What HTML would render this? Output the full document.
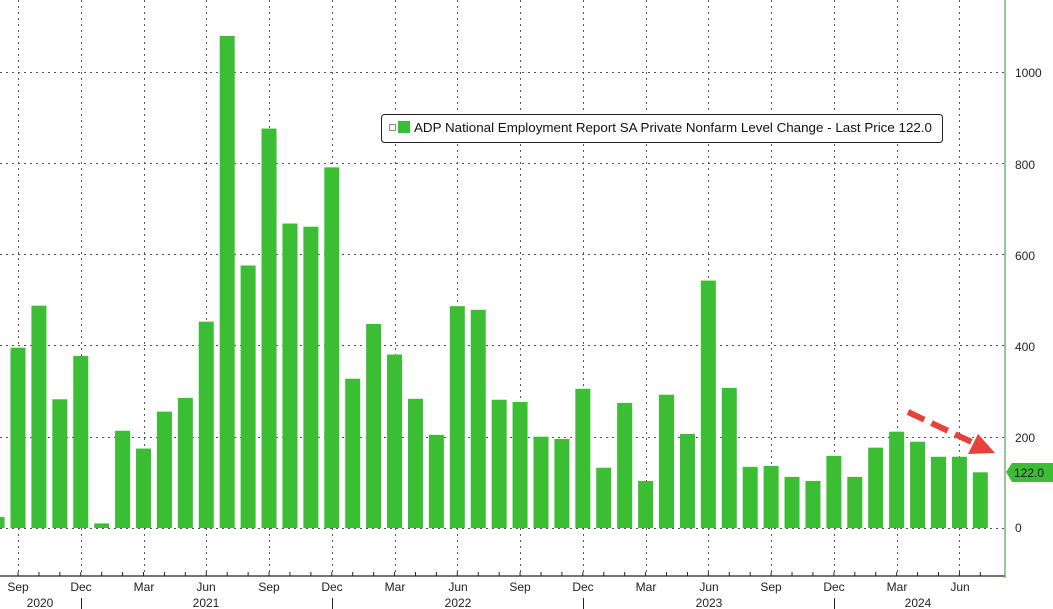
<!DOCTYPE html>
<html><head><meta charset="utf-8"><style>
html,body{margin:0;padding:0;background:#fff;}
svg{display:block;font-family:"Liberation Sans","DejaVu Sans",sans-serif;}
</style></head><body>
<svg id="c" width="1053" height="609" viewBox="0 0 1053 609">
<g id="grid"></g>
<g id="bars" fill="#3cbe34"></g>
<line x1="0" y1="576" x2="1005" y2="576" stroke="#222" stroke-width="1.2"/>
<line x1="1005" y1="0" x2="1005" y2="578" stroke="#5a9e5a" stroke-width="1.2"/>
<g id="ticks"></g>
<g font-size="12" fill="#222">
<text x="1015" y="77">1000</text>
<text x="1015" y="169">800</text>
<text x="1015" y="260">600</text>
<text x="1015" y="351">400</text>
<text x="1015" y="442">200</text>
<text x="1015" y="532">0</text>
</g>
<path d="M1006,472 L1012,463 L1053,463 L1053,482 L1012,482 Z" fill="#3cbe34"/>
<text x="1014" y="477" font-size="12" fill="#1a1a1a">122.0</text>
<g font-size="12" fill="#222" text-anchor="middle">
<text x="18" y="591">Sep</text><text x="81" y="591">Dec</text><text x="144" y="591">Mar</text><text x="206" y="591">Jun</text>
<text x="269" y="591">Sep</text><text x="332" y="591">Dec</text><text x="395" y="591">Mar</text><text x="458" y="591">Jun</text>
<text x="520" y="591">Sep</text><text x="583" y="591">Dec</text><text x="646" y="591">Mar</text><text x="709" y="591">Jun</text>
<text x="771" y="591">Sep</text><text x="834" y="591">Dec</text><text x="897" y="591">Mar</text><text x="960" y="591">Jun</text>
<text x="40" y="607">2020</text><text x="206" y="607">2021</text><text x="458" y="607">2022</text><text x="709" y="607">2023</text><text x="918" y="607">2024</text>
</g>
<rect x="381.5" y="114.5" width="561" height="28" rx="3" fill="#fff" stroke="#222" stroke-width="1"/>
<rect x="389.5" y="124.5" width="6" height="6" fill="#fff" stroke="#888"/>
<rect x="398" y="121" width="12" height="12" fill="#3cbe34"/>
<text x="414" y="132" font-size="12.5" fill="#111" textLength="518" lengthAdjust="spacingAndGlyphs">ADP National Employment Report SA Private Nonfarm Level Change - Last Price 122.0</text>
<line x1="908" y1="412" x2="978" y2="445" stroke="#e8403a" stroke-width="6" stroke-dasharray="18,8"/>
<path d="M995,453 L968,454 L978,434 Z" fill="#e8403a"/>
</svg>
<script>
var v=[24,395,487,282,377,10,213,174,255,285,452,1078,575,875,667,660,790,327,447,380,283,204,486,478,281,276,200,195,305,132,274,103,292,206,542,307,134,136,112,103,158,112,176,211,189,156,156,122];
var ns="http://www.w3.org/2000/svg";
function el(p,t,a){var e=document.createElementNS(ns,t);for(var k in a)e.setAttribute(k,a[k]);p.appendChild(e);return e;}
var g=document.getElementById('grid'),b=document.getElementById('bars'),tk=document.getElementById('ticks');
function cx(i){return 18+(i-1)*20.92;}
function y(val){return 528-val*0.4565;}
[0,200,400,600,800,1000].forEach(function(k){var yy=Math.round(y(k))+0.5;el(g,'line',{x1:0,y1:yy,x2:1005,y2:yy,stroke:'#555','stroke-dasharray':'2,4','stroke-width':1});});
for(var i=0;i<48;i++){
 var c=cx(i);
 if(i%3==1){el(g,'line',{x1:Math.round(c)+0.5,y1:0,x2:Math.round(c)+0.5,y2:576,stroke:'#555','stroke-dasharray':'2,4','stroke-width':1});}
 el(b,'rect',{x:c-7.5,y:y(v[i]),width:15,height:528-y(v[i])});
 el(tk,'line',{x1:c,y1:572,x2:c,y2:576,stroke:'#222'});
 if(i%12==4){el(tk,'line',{x1:Math.round(c)+0.5,y1:598,x2:Math.round(c)+0.5,y2:609,stroke:'#222'});}
}
</script>
</body></html>
